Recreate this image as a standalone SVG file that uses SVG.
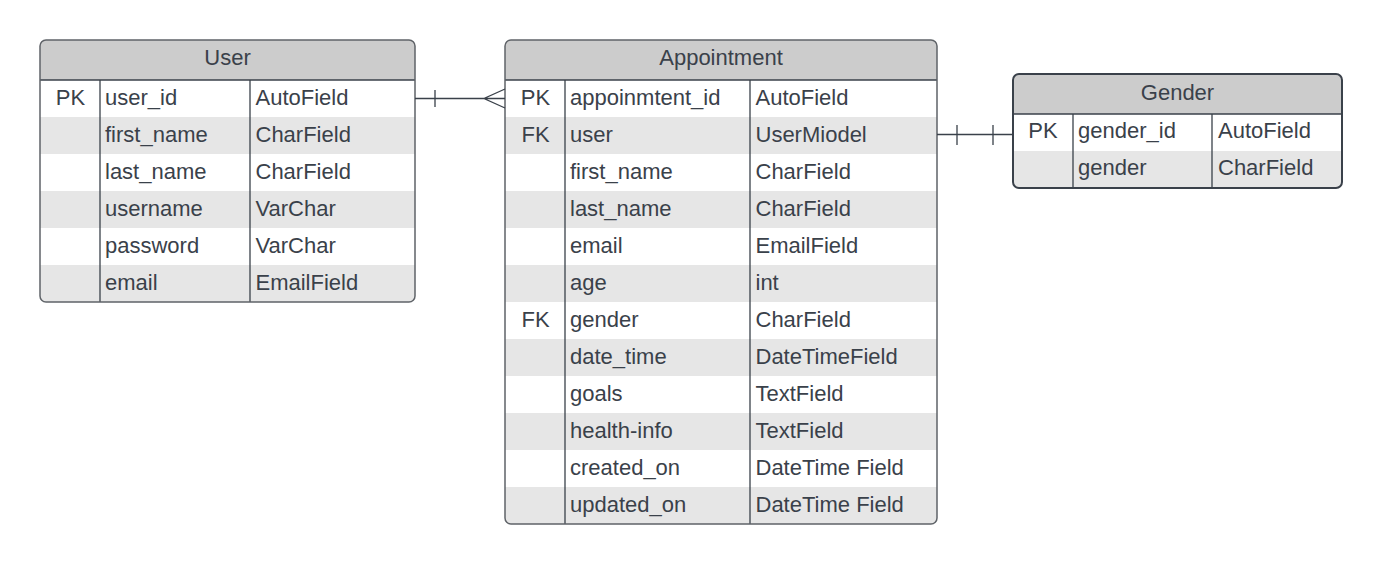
<svg xmlns="http://www.w3.org/2000/svg" width="1383" height="564" viewBox="0 0 1383 564">
<style>
text{font-family:"Liberation Sans",Arial,sans-serif;font-size:22px;fill:#3a414a}
.t{text-anchor:middle}
.hd{fill:#cccccc}
.alt{fill:#e6e6e6}
.ln{stroke:#3a414a;stroke-width:1.3;fill:none}
.bd{stroke:#5f6368;stroke-width:1.5;fill:none}
.bd2{stroke:#3a414a;stroke-width:2;fill:none}
.cn{stroke:#3a414a;stroke-width:1.3;fill:none}
</style>
<rect width="1383" height="564" fill="#ffffff"/>
<g id="user">
<path class="hd" d="M40 80V46a6 6 0 0 1 6-6h363a6 6 0 0 1 6 6v34z"/>
<rect class="alt" x="40" y="117" width="375" height="37"/>
<rect class="alt" x="40" y="191" width="375" height="37"/>
<rect class="alt" x="40" y="265" width="375" height="31"/>
<path class="alt" d="M40 290h375v6a6 6 0 0 1-6 6H46a6 6 0 0 1-6-6z"/>
<line class="ln" x1="40" y1="80" x2="415" y2="80"/>
<line class="ln" x1="100" y1="80" x2="100" y2="302"/>
<line class="ln" x1="250" y1="80" x2="250" y2="302"/>
<rect class="bd" x="40" y="40" width="375" height="262" rx="6"/>
<text class="t" x="227.5" y="65">User</text>
<text class="t" x="70.5" y="105">PK</text>
<text x="105" y="105">user_id</text><text x="255.5" y="105">AutoField</text>
<text x="105" y="142">first_name</text><text x="255.5" y="142">CharField</text>
<text x="105" y="179">last_name</text><text x="255.5" y="179">CharField</text>
<text x="105" y="216">username</text><text x="255.5" y="216">VarChar</text>
<text x="105" y="253">password</text><text x="255.5" y="253">VarChar</text>
<text x="105" y="290">email</text><text x="255.5" y="290">EmailField</text>
</g>
<g id="appointment">
<path class="hd" d="M505 80V46a6 6 0 0 1 6-6h420a6 6 0 0 1 6 6v34z"/>
<rect class="alt" x="505" y="117" width="432" height="37"/>
<rect class="alt" x="505" y="191" width="432" height="37"/>
<rect class="alt" x="505" y="265" width="432" height="37"/>
<rect class="alt" x="505" y="339" width="432" height="37"/>
<rect class="alt" x="505" y="413" width="432" height="37"/>
<path class="alt" d="M505 487h432v31a6 6 0 0 1-6 6H511a6 6 0 0 1-6-6z"/>
<line class="ln" x1="505" y1="80" x2="937" y2="80"/>
<line class="ln" x1="565" y1="80" x2="565" y2="524"/>
<line class="ln" x1="750" y1="80" x2="750" y2="524"/>
<rect class="bd" x="505" y="40" width="432" height="484" rx="6"/>
<text class="t" x="721" y="65">Appointment</text>
<text class="t" x="535.5" y="105">PK</text>
<text class="t" x="535.5" y="142">FK</text>
<text class="t" x="535.5" y="327">FK</text>
<text x="570" y="105">appoinmtent_id</text><text x="755.5" y="105">AutoField</text>
<text x="570" y="142">user</text><text x="755.5" y="142">UserMiodel</text>
<text x="570" y="179">first_name</text><text x="755.5" y="179">CharField</text>
<text x="570" y="216">last_name</text><text x="755.5" y="216">CharField</text>
<text x="570" y="253">email</text><text x="755.5" y="253">EmailField</text>
<text x="570" y="290">age</text><text x="755.5" y="290">int</text>
<text x="570" y="327">gender</text><text x="755.5" y="327">CharField</text>
<text x="570" y="364">date_time</text><text x="755.5" y="364">DateTimeField</text>
<text x="570" y="401">goals</text><text x="755.5" y="401">TextField</text>
<text x="570" y="438">health-info</text><text x="755.5" y="438">TextField</text>
<text x="570" y="475">created_on</text><text x="755.5" y="475">DateTime Field</text>
<text x="570" y="512">updated_on</text><text x="755.5" y="512">DateTime Field</text>
</g>
<g id="gender">
<path class="hd" d="M1013 114V80a6 6 0 0 1 6-6h317a6 6 0 0 1 6 6v34z"/>
<path class="alt" d="M1013 151h329v31a6 6 0 0 1-6 6h-317a6 6 0 0 1-6-6z"/>
<line class="ln" x1="1013" y1="114" x2="1342" y2="114"/>
<line class="ln" x1="1073" y1="114" x2="1073" y2="188"/>
<line class="ln" x1="1212" y1="114" x2="1212" y2="188"/>
<rect class="bd2" x="1013" y="74" width="329" height="114" rx="6"/>
<text class="t" x="1177.5" y="100">Gender</text>
<text class="t" x="1043" y="138">PK</text>
<text x="1078" y="138">gender_id</text><text x="1218" y="138">AutoField</text>
<text x="1078" y="175">gender</text><text x="1218" y="175">CharField</text>
</g>
<g id="connectors">
<path class="cn" d="M415 98.5H505M435 90V107M505 89L484 98.5L505 108"/>
<path class="cn" d="M937 134.5H1013M957 125V145M993 125V145"/>
</g>
</svg>
